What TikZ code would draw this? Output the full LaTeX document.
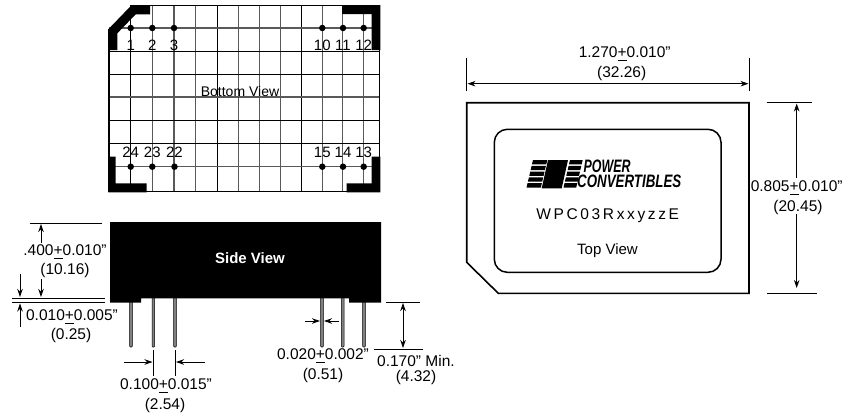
\documentclass[tikz,border=0pt]{standalone}
\usepackage{fontspec}
\setmainfont{Liberation Sans}
\newcommand{\pmbar}{\rlap{\rule[-3.6pt]{9pt}{1.5pt}}+}
\usetikzlibrary{arrows.meta}
\tikzset{
  px/.style={x=1pt,y=-1pt},
  dimline/.style={line width=0.9pt,black},
  dimarrow/.style={line width=0.9pt,black,-{Stealth[length=8pt,width=5.5pt]}},
  dimboth/.style={line width=0.9pt,black,{Stealth[length=8pt,width=5.5pt]}-{Stealth[length=8pt,width=5.5pt]}},
  lbl/.style={inner sep=0pt,font=\fontsize{15.5}{18}\selectfont,text=black},
  pinno/.style={inner sep=0pt,font=\fontsize{15}{18}\selectfont,text=black},
  gridgray/.style={line width=1.1pt,black!65},
  griddark/.style={line width=1pt,black},
  pindot/.style={circle,fill=black,inner sep=0pt,minimum size=6.5pt},
  pinlead/.style={fill=black!50,draw=black,line width=0.5pt,rounded corners=0.8pt},
  blk/.style={fill=black,draw=none},
  logotext/.style={anchor=west,inner sep=0pt,font=\fontsize{18}{19}\selectfont\bfseries\itshape},
}
\begin{document}
\begin{tikzpicture}[px]
\useasboundingbox (0,0) rectangle (855,415);
%% ---------- bottom view: grid
\foreach \x in {130.7,217,301}{\draw[griddark] (\x,5) -- (\x,191);}
\foreach \x in {152.3,174,195.7,238.3,259.3,280.7,322.3,342.7,363.7}{\draw[gridgray] (\x,5) -- (\x,191);}
\foreach \y in {51,74,120,143}{\draw[griddark] (109,\y) -- (380,\y);}
\foreach \y in {28,97,166.7}{\draw[gridgray] (109,\y) -- (380,\y);}
\draw[line width=1.5pt] (131,5.5) -- (379.5,5.5) -- (379.5,191.5) -- (109,191.5) -- (109,29);
%% corner brackets
\fill[blk] (108.3,29.3) -- (131.7,5) -- (150,5) -- (150,14.3) -- (135.7,14.3) -- (117.3,33.3) -- (117.3,50) -- (108.3,50) -- cycle;
\fill[blk] (342,5) -- (380.3,5) -- (380.3,50) -- (371.5,50) -- (371.5,14) -- (342,14) -- cycle;
\fill[blk] (108.3,156.7) -- (115.7,156.7) -- (115.7,183.3) -- (146.7,183.3) -- (146.7,192.3) -- (108.3,192.3) -- cycle;
\fill[blk] (346.7,183.3) -- (371.7,183.3) -- (371.7,156.7) -- (380.3,156.7) -- (380.3,192.3) -- (346.7,192.3) -- cycle;
%% pins
\foreach \n/\x in {1/130.7,2/152.3,3/174,10/322.3,11/343,12/363.7}{
  \node[pindot] (dot\n) at (\x,28) {};
  \node[pinno] (no\n) at (\x,45) {\n};
}
\foreach \n/\x in {24/130.7,23/152.3,22/174.5,15/322.3,14/343,13/363.7}{
  \node[pindot] (dot\n) at (\x,166.7) {};
  \node[pinno] (no\n) at (\x,152.5) {\n};
}
\node[inner sep=0pt,font=\fontsize{14}{16}\selectfont] (bottomview) at (240,91) {Bottom View};
%% ---------- side view
\foreach \n/\x in {a/131,b/153.3,c/175,d/322,e/342.7,f/364}{
  \draw[pinlead] (\x-1.3,295) rectangle (\x+1.3,347);
}
\fill[blk] (110,222) -- (381,222) -- (381,302.7) -- (349,302.7) -- (349,298.3) -- (141,298.3) -- (141,302.7) -- (110,302.7) -- cycle;
\node[inner sep=0pt,text=white,font=\fontsize{15}{18}\selectfont\bfseries] (sideview) at (250,258) {Side View};
%% .400 dimension
\coordinate (h1a) at (30,223.5); \coordinate (h1b) at (102,223.5);
\coordinate (h2a) at (12,298.5); \coordinate (h2b) at (105,298.5);
\coordinate (h3a) at (12,302.5); \coordinate (h3b) at (105,302.5);
\draw[dimline] (h1a) -- (h1b);
\draw[dimline] (h2a) -- (h2b);
\draw[dimline] (h3a) -- (h3b);
\coordinate (t400a) at (41,243); \coordinate (t400at) at (41,224);
\coordinate (t400b) at (41,279); \coordinate (t400bt) at (41,297);
\draw[dimarrow] (t400a) -- (t400at);
\draw[dimarrow] (t400b) -- (t400bt);
\node[lbl] (d400) at (65,252) {.400\pmbar0.010"};
\node[lbl] (d400m) at (65,270.5) {(10.16)};
%% .010 dimension
\coordinate (e1a) at (20,274); \coordinate (e1t) at (20,297);
\coordinate (e2a) at (20,327); \coordinate (e2t) at (20,303.5);
\draw[dimarrow] (e1a) -- (e1t);
\draw[dimarrow] (e2a) -- (e2t);
\node[lbl] (d010) at (72,317) {0.010\pmbar0.005"};
\node[lbl] (d010m) at (71,335.5) {(0.25)};
%% .100 dimension
\coordinate (p1a) at (153.3,350); \coordinate (p1b) at (153.3,376);
\coordinate (p2a) at (175.3,350); \coordinate (p2b) at (175.3,376);
\draw[dimline] (p1a) -- (p1b);
\draw[dimline] (p2a) -- (p2b);
\coordinate (p3a) at (124,362); \coordinate (p3t) at (152.5,362);
\coordinate (p4a) at (205,362); \coordinate (p4t) at (176,362);
\draw[dimarrow] (p3a) -- (p3t);
\draw[dimarrow] (p4a) -- (p4t);
\node[lbl] (d100) at (166,386) {0.100\pmbar0.015"};
\node[lbl] (d100m) at (165,405) {(2.54)};
%% .020 dimension
\coordinate (w1a) at (305,321); \coordinate (w1t) at (320,321);
\coordinate (w2a) at (339,321); \coordinate (w2t) at (324,321);
\draw[dimarrow] (w1a) -- (w1t);
\draw[dimarrow] (w2a) -- (w2t);
\node[lbl] (d020) at (323,356) {0.020\pmbar0.002"};
\node[lbl] (d020m) at (323,375) {(0.51)};
%% .170 dimension
\coordinate (m1a) at (386,302); \coordinate (m1b) at (420,302);
\coordinate (m2a) at (374,349); \coordinate (m2b) at (423,349);
\draw[dimline] (m1a) -- (m1b);
\draw[dimline] (m2a) -- (m2b);
\coordinate (m3a) at (403,303); \coordinate (m3b) at (403,348);
\draw[dimboth] (m3a) -- (m3b);
\node[lbl,anchor=west] (d170) at (377,361) {0.170" Min.};
\node[lbl] (d170m) at (416,377) {(4.32)};
%% ---------- top view
\draw[line width=1.6pt] (466.7,102.7) -- (749,102.7) -- (749,293.3) -- (498.3,293.3) -- (466.7,262.3) -- cycle;
\draw[line width=1.5pt,rounded corners=13pt] (494.3,129.3) rectangle (721,272.3);
\coordinate (tw1a) at (466.7,57.5); \coordinate (tw1b) at (466.7,91);
\coordinate (tw2a) at (749,57.5); \coordinate (tw2b) at (749,91);
\draw[dimline] (tw1a) -- (tw1b);
\draw[dimline] (tw2a) -- (tw2b);
\coordinate (tw3a) at (467.5,83.7); \coordinate (tw3b) at (748.5,83.7);
\draw[dimboth] (tw3a) -- (tw3b);
\node[lbl] (d1270) at (624.7,54) {1.270\pmbar0.010"};
\node[lbl] (d1270m) at (621.7,73) {(32.26)};
\coordinate (tr1a) at (766.7,102.7); \coordinate (tr1b) at (812,102.7);
\coordinate (tr2a) at (767,293.3); \coordinate (tr2b) at (817,293.3);
\draw[dimline] (tr1a) -- (tr1b);
\draw[dimline] (tr2a) -- (tr2b);
\coordinate (tr3a) at (796.7,178); \coordinate (tr3t) at (796.7,103.5);
\coordinate (tr4a) at (796.7,214); \coordinate (tr4t) at (796.7,288);
\draw[dimarrow] (tr3a) -- (tr3t);
\draw[dimarrow] (tr4a) -- (tr4t);
\node[lbl] (d805) at (796.7,188) {0.805\pmbar0.010"};
\node[lbl] (d805m) at (798,207) {(20.45)};
%% logo
\fill[blk] (548,160) -- (568,160) -- (561.7,188.3) -- (541.7,188.3) -- cycle;
\foreach \i in {0,1,2,3,4}{
  \pgfmathsetmacro{\ya}{160+\i*5.8}
  \pgfmathsetmacro{\yb}{\ya+4.3}
  \pgfmathsetmacro{\sa}{(\ya-160)*0.235}
  \pgfmathsetmacro{\sb}{(\yb-160)*0.235}
  \fill[blk] (533-\sa,\ya) -- (547.3-\sa,\ya) -- (547.3-\sb,\yb) -- (533-\sb,\yb) -- cycle;
  \fill[blk] (570-\sa,\ya) -- (582.7-\sa,\ya) -- (582.7-\sb,\yb) -- (570-\sb,\yb) -- cycle;
}
\node[logotext] (logo1) at (583.5,166.5) {\scalebox{0.69}[1]{POWER}};
\node[logotext] (logo2) at (577,181.8) {\scalebox{0.74}[1]{CONVERTIBLES}};
\node[inner sep=0pt,font=\fontsize{15.5}{18}\selectfont\addfontfeature{LetterSpace=17}] (partno) at (607.7,216) {WPC03RxxyzzE};
\node[inner sep=0pt,font=\fontsize{15}{18}\selectfont] (topview) at (607.5,250.5) {Top View};
\end{tikzpicture}
\end{document}
